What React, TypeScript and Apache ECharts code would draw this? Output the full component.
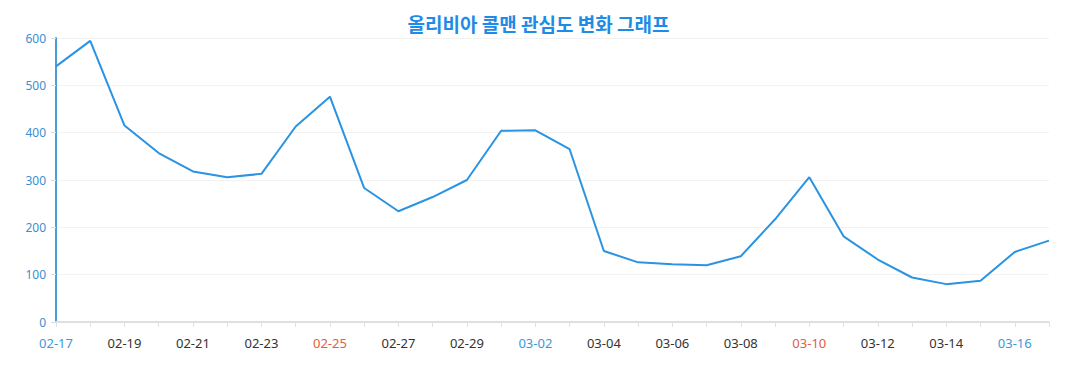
import React, { useEffect, useRef } from "react";
import * as echarts from "echarts";

const titleText = "올리비아 콜맨 관심도 변화 그래프";
const categories = [
  "02-17", "02-18", "02-19", "02-20", "02-21", "02-22", "02-23", "02-24", "02-25", "02-26",
  "02-27", "02-28", "02-29", "03-01", "03-02", "03-03", "03-04", "03-05", "03-06", "03-07",
  "03-08", "03-09", "03-10", "03-11", "03-12", "03-13", "03-14", "03-15", "03-16", "03-17",
];
const values = [
  540, 594, 415, 357, 318, 306, 313, 413, 476, 283,
  234, 264, 300, 404, 405, 365, 150, 126, 122, 120,
  139, 217, 306, 181, 132, 94, 80, 87, 148, 172,
];
const saturdays = ["02-17", "02-24", "03-02", "03-09", "03-16"];
const sundays = ["02-18", "02-25", "03-03", "03-10", "03-17"];

export default function App() {
  const ref = useRef<HTMLDivElement>(null);
  useEffect(() => {
    if (!ref.current) return;
    const chart = echarts.init(ref.current, undefined, { renderer: "svg" });
    chart.setOption({
      animation: false,
      title: {
        text: titleText,
        left: "center",
        top: 1,
        textStyle: {
          fontFamily: "Noto Sans CJK KR",
          fontSize: 19,
          fontWeight: "bold",
          color: "#1e8be6",
        },
      },
      grid: { left: 48, right: 20, top: 30, bottom: 60 },
      xAxis: {
        type: "category",
        data: categories,
        boundaryGap: false,
        axisLine: { lineStyle: { color: "#e0e0e0", width: 2 } },
        axisTick: { show: true, interval: 0, lineStyle: { color: "#e0e0e0" } },
        axisLabel: {
          interval: 1,
          margin: 14,
          fontFamily: "Noto Sans",
          fontSize: 13,
          color: (v: string) =>
            saturdays.includes(v) ? "#3a9ad9" : sundays.includes(v) ? "#e0603c" : "#333333",
        },
      },
      yAxis: {
        type: "value",
        min: 0,
        max: 600,
        interval: 100,
        axisLine: { show: true, lineStyle: { color: "#4a9ed8", width: 2 } },
        axisTick: { show: true, lineStyle: { color: "#dddddd" } },
        axisLabel: { fontFamily: "Noto Sans", fontSize: 12, color: "#3a8fd0", margin: 10 },
        splitLine: { lineStyle: { color: "#f2f2f2" } },
      },
      series: [
        {
          type: "line",
          data: values,
          showSymbol: false,
          lineStyle: { color: "#2a93e2", width: 2 },
          itemStyle: { color: "#2a93e2" },
        },
      ],
    });
    return () => chart.dispose();
  }, []);
  return <div ref={ref} style={{ width: 1061, height: 374 }} />;
}
